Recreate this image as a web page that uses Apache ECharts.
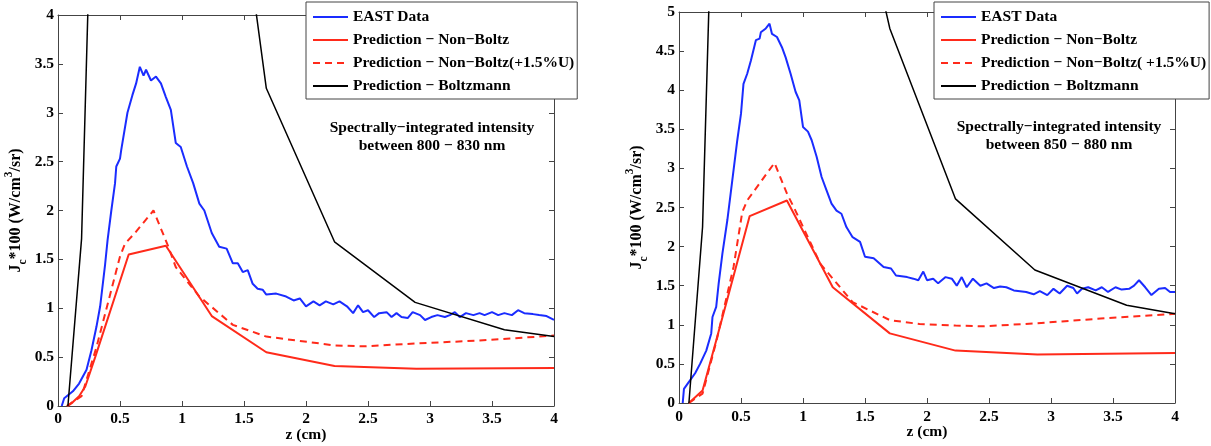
<!DOCTYPE html>
<html>
<head>
<meta charset="utf-8">
<script src="https://cdn.jsdelivr.net/npm/echarts@6/dist/echarts.min.js"></script>
<style>html,body{margin:0;padding:0;background:#fff}#c{width:1211px;height:446px}</style>
</head>
<body>
<div id="c"></div>
<script>
// ---------- DATA ----------
const xTicks = [0, 0.5, 1, 1.5, 2, 2.5, 3, 3.5, 4];
const legendLeftNames = ['EAST Data', 'Prediction − Non−Boltz', 'Prediction − Non−Boltz(+1.5%U)', 'Prediction − Boltzmann'];
const legendRightNames = ['EAST Data', 'Prediction − Non−Boltz', 'Prediction − Non−Boltz( +1.5%U)', 'Prediction − Boltzmann'];
const noteLeft = 'Spectrally−integrated intensity\nbetween 800 − 830 nm';
const noteRight = 'Spectrally−integrated intensity\nbetween 850 − 880 nm';

// Left panel (800-830 nm)
const eastLeftZ = [0.03,0.05,0.12,0.17,0.23,0.27,0.31,0.34,0.38,0.40,0.43,0.46,0.47,0.50,0.51,0.56,0.60,0.63,0.66,0.69,0.71,0.75,0.79,0.83,0.87,0.91,0.95,0.99,1.04,1.09,1.14,1.18,1.24,1.30,1.36,1.41,1.45,1.49,1.53,1.57,1.61,1.65,1.68,1.76,1.84,1.90,1.95,2.00,2.06,2.11,2.16,2.22,2.27,2.33,2.38,2.42,2.46,2.50,2.55,2.59,2.65,2.69,2.73,2.77,2.82,2.86,2.92,2.96,3.01,3.06,3.12,3.16,3.20,3.24,3.29,3.35,3.40,3.44,3.50,3.55,3.60,3.66,3.71,3.76,3.83,3.88,3.94,4.00];
const eastLeftJ = [0,0.08,0.15,0.23,0.37,0.57,0.81,1.02,1.45,1.70,2.00,2.28,2.45,2.53,2.62,3.00,3.18,3.30,3.47,3.38,3.44,3.33,3.37,3.30,3.16,3.03,2.69,2.65,2.45,2.28,2.07,2.00,1.77,1.63,1.61,1.46,1.46,1.37,1.39,1.25,1.20,1.19,1.14,1.15,1.12,1.08,1.10,1.02,1.07,1.03,1.07,1.04,1.07,1.02,0.95,1.03,0.96,0.98,0.91,0.95,0.96,0.91,0.95,0.91,0.90,0.96,0.93,0.88,0.91,0.93,0.91,0.93,0.96,0.91,0.95,0.93,0.95,0.93,0.96,0.93,0.95,0.93,0.98,0.95,0.94,0.93,0.92,0.88];
const nbLeftZ = [0.08,0.12,0.17,0.22,0.30,0.57,0.87,1.24,1.68,2.23,2.89,4.00];
const nbLeftJ = [0,0.04,0.10,0.20,0.50,1.55,1.64,0.92,0.55,0.41,0.38,0.39];
const nbuLeftZ = [0.07,0.19,0.31,0.50,0.54,0.62,0.77,0.89,0.95,1.14,1.41,1.68,2.23,2.46,2.89,3.40,4.00];
const nbuLeftJ = [0,0.10,0.60,1.53,1.66,1.77,2.00,1.63,1.42,1.12,0.83,0.71,0.62,0.61,0.64,0.67,0.72];
const boltzLeftZ = [0.08,0.19,0.31,0.57,0.87,1.24,1.68,2.23,2.88,3.60,4.00];
const boltzLeftJ = [0,1.71,7.2,10,10,7.4,3.25,1.68,1.06,0.78,0.71];

// Right panel (850-880 nm)
const eastRightZ = [0.03,0.04,0.08,0.13,0.17,0.22,0.26,0.27,0.30,0.32,0.35,0.39,0.43,0.47,0.50,0.52,0.55,0.58,0.62,0.65,0.66,0.70,0.73,0.75,0.79,0.83,0.86,0.90,0.94,0.97,1.00,1.04,1.07,1.11,1.15,1.19,1.23,1.27,1.31,1.35,1.40,1.46,1.50,1.57,1.65,1.71,1.75,1.84,1.89,1.93,1.97,2.00,2.05,2.09,2.15,2.20,2.24,2.28,2.32,2.37,2.43,2.48,2.54,2.59,2.64,2.70,2.75,2.80,2.86,2.91,2.97,3.02,3.07,3.13,3.18,3.21,3.25,3.30,3.36,3.41,3.46,3.52,3.57,3.63,3.67,3.71,3.76,3.81,3.87,3.92,3.96,4.00];
const eastRightJ = [0,0.18,0.27,0.38,0.50,0.67,0.89,1.10,1.23,1.53,1.91,2.34,2.85,3.36,3.70,4.08,4.21,4.38,4.64,4.66,4.74,4.79,4.85,4.72,4.68,4.55,4.42,4.21,3.98,3.87,3.53,3.47,3.36,3.15,2.89,2.72,2.55,2.46,2.42,2.25,2.12,2.06,1.87,1.85,1.74,1.72,1.63,1.61,1.59,1.57,1.68,1.57,1.59,1.53,1.61,1.59,1.50,1.61,1.48,1.59,1.50,1.53,1.47,1.49,1.48,1.44,1.43,1.42,1.39,1.43,1.38,1.46,1.40,1.50,1.47,1.40,1.46,1.48,1.44,1.48,1.42,1.48,1.45,1.46,1.50,1.57,1.48,1.38,1.46,1.47,1.42,1.42];
const nbRightZ = [0.08,0.19,0.30,0.57,0.87,1.24,1.70,2.23,2.89,4.00];
const nbRightJ = [0,0.16,0.80,2.39,2.59,1.48,0.89,0.67,0.62,0.64];
const nbuRightZ = [0.08,0.19,0.30,0.44,0.51,0.55,0.77,0.87,0.93,1.14,1.40,1.70,1.94,2.23,2.45,2.89,3.40,4.00];
const nbuRightJ = [0,0.12,0.78,1.74,2.44,2.59,3.07,2.68,2.49,1.78,1.29,1.06,1.01,0.99,0.98,1.02,1.08,1.14];
const boltzRightZ = [0.08,0.19,0.31,0.57,0.87,1.24,1.70,2.23,2.87,3.61,4.00];
const boltzRightJ = [0,2.25,8.85,11,11,8.0,4.79,2.61,1.70,1.25,1.14];

// ---------- CHART ----------
const pairs = (z, j) => z.map((v, i) => [v, j[i]]);
const FONT = '"Liberation Serif", "Times New Roman", serif';
const FS = 15.5;
const BLUE = '#1a2cff', RED = '#ff2a1a', BLACK = '#000000', FRAME = '#444444';

function xAxis(grid, pos, withLabels, labelMargin, nameGap) {
  return {
    type: 'value', gridIndex: grid, position: pos, min: 0, max: 4, interval: 0.5,
    axisLine: { show: true, onZero: false, lineStyle: { color: FRAME, width: 1 } },
    axisTick: { show: true, inside: true, length: 5, lineStyle: { color: FRAME } },
    axisLabel: { show: withLabels, fontFamily: FONT, fontWeight: 'bold', fontSize: FS, color: '#000', margin: labelMargin },
    splitLine: { show: false },
    name: withLabels ? 'z (cm)' : '', nameLocation: 'middle', nameGap: nameGap, nameMoveOverlap: false,
    nameTextStyle: { fontFamily: FONT, fontWeight: 'bold', fontSize: FS, color: '#000' }
  };
}
function yAxis(grid, pos, max, withLabels) {
  return {
    type: 'value', gridIndex: grid, position: pos, min: 0, max: max, interval: 0.5,
    axisLine: { show: true, onZero: false, lineStyle: { color: FRAME, width: 1 } },
    axisTick: { show: true, inside: true, length: 5, lineStyle: { color: FRAME } },
    axisLabel: { show: withLabels, fontFamily: FONT, fontWeight: 'bold', fontSize: FS, color: '#000', margin: 4 },
    splitLine: { show: false },
    name: withLabels ? '{b|J}{sub|c}{b|*100 (W/cm}{sup|3}{b|/sr)}' : '',
    nameLocation: 'middle', nameRotate: 90, nameGap: 29,
    nameTextStyle: {
      fontFamily: FONT, fontWeight: 'bold', fontSize: 16, color: '#000',
      rich: {
        b: { fontFamily: FONT, fontWeight: 'bold', fontSize: 16, color: '#000', lineHeight: 26 },
        sub: { fontFamily: FONT, fontWeight: 'bold', fontSize: 11.5, color: '#000', lineHeight: 11, verticalAlign: 'bottom' },
        sup: { fontFamily: FONT, fontWeight: 'bold', fontSize: 11.5, color: '#000', lineHeight: 11, verticalAlign: 'top' }
      }
    }
  };
}
function line(name, xi, yi, data, color, dashed, width) {
  return {
    type: 'line', name: name, xAxisIndex: xi, yAxisIndex: yi, data: data,
    symbol: 'none', showSymbol: false, clip: true, animation: false, z: 3,
    lineStyle: { color: color, width: width, type: dashed ? [7, 5] : 'solid' },
    itemStyle: { color: 'rgba(0,0,0,0)' }
  };
}
function legend(left, names) {
  return {
    left: left, top: 2, orient: 'vertical', data: names, selectedMode: false,
    itemWidth: 35, itemHeight: 14, itemGap: 7,
    backgroundColor: '#ffffff', borderColor: FRAME, borderWidth: 1, borderRadius: 0,
    padding: [7, 3, 5, 6], z: 10,
    itemStyle: { opacity: 0 },
    textStyle: { fontFamily: FONT, fontWeight: 'bold', fontSize: FS, color: '#000' }
  };
}

const chart = echarts.init(document.getElementById('c'), null, { renderer: 'canvas' });
chart.setOption({
  animation: false,
  backgroundColor: '#ffffff',
  grid: [
    { left: 58, top: 15, width: 496, height: 391, containLabel: false, outerBoundsMode: 'none' },
    { left: 679, top: 12, width: 496, height: 391, containLabel: false, outerBoundsMode: 'none' }
  ],
  xAxis: [xAxis(0, 'bottom', true, 5, 21), xAxis(0, 'top', false, 5, 21), xAxis(1, 'bottom', true, 6, 21), xAxis(1, 'top', false, 6, 21)],
  yAxis: [yAxis(0, 'left', 4, true), yAxis(0, 'right', 4, false), yAxis(1, 'left', 5, true), yAxis(1, 'right', 5, false)],
  legend: [legend(306, legendLeftNames), legend(934, legendRightNames)],
  series: [
    line(legendLeftNames[0], 0, 0, pairs(eastLeftZ, eastLeftJ), BLUE, false, 2),
    line(legendLeftNames[1], 0, 0, pairs(nbLeftZ, nbLeftJ), RED, false, 2),
    line(legendLeftNames[2], 0, 0, pairs(nbuLeftZ, nbuLeftJ), RED, true, 2),
    line(legendLeftNames[3], 0, 0, pairs(boltzLeftZ, boltzLeftJ), BLACK, false, 1.5),
    line(legendRightNames[0], 2, 2, pairs(eastRightZ, eastRightJ), BLUE, false, 2),
    line(legendRightNames[1], 2, 2, pairs(nbRightZ, nbRightJ), RED, false, 2),
    line(legendRightNames[2], 2, 2, pairs(nbuRightZ, nbuRightJ), RED, true, 2),
    line(legendRightNames[3], 2, 2, pairs(boltzRightZ, boltzRightJ), BLACK, false, 1.5)
  ],
  graphic: [
    { type: 'text', x: 432, y: 119, z: 5,
      style: { text: noteLeft, x: 0, y: 0, textAlign: 'center', fill: '#000', lineHeight: 18,
               font: 'bold 15.5px "Liberation Serif", "Times New Roman", serif' } },
    { type: 'text', x: 1059, y: 118, z: 5,
      style: { text: noteRight, x: 0, y: 0, textAlign: 'center', fill: '#000', lineHeight: 18,
               font: 'bold 15.5px "Liberation Serif", "Times New Roman", serif' } }
  ]
});
</script>
</body>
</html>
